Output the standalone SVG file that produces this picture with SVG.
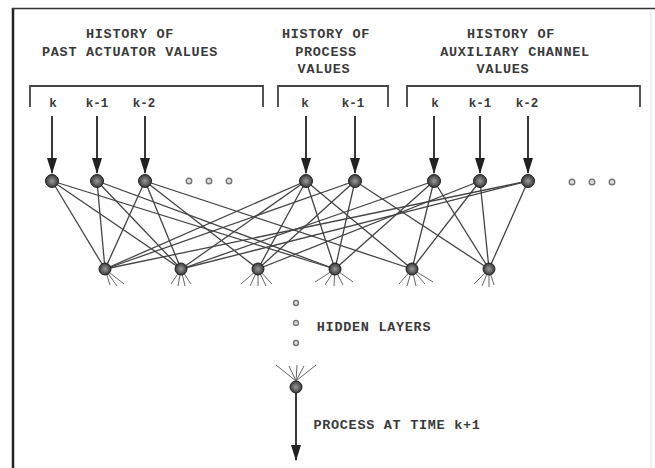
<svg xmlns="http://www.w3.org/2000/svg" width="655" height="468" viewBox="0 0 655 468">
  <defs>
    <radialGradient id="ball" cx="50%" cy="50%" r="55%">
      <stop offset="0" stop-color="#9a9a9a"/>
      <stop offset="0.6" stop-color="#5a5a5a"/>
      <stop offset="1" stop-color="#2a2a2a"/>
    </radialGradient>
    <marker id="arr" viewBox="0 0 16 10" refX="15" refY="5" markerWidth="16" markerHeight="10" orient="auto" markerUnits="userSpaceOnUse">
      <path d="M0,0 L16,5 L0,10 Z" fill="#222"/>
    </marker>
  </defs>
  <style>
    .t { font-family: "Liberation Mono", "DejaVu Sans Mono", monospace; font-size: 13.5px; font-weight: bold; letter-spacing: 0.7px; fill: #3a3a3a; text-anchor: middle; }
    .k { font-family: "Liberation Mono", "DejaVu Sans Mono", monospace; font-size: 12.5px; font-weight: bold; fill: #3a3a3a; text-anchor: middle; }
    .br { fill: none; stroke: #444; stroke-width: 1.8; }
    .in { stroke: #222; stroke-width: 1.8; fill: none; }
    .e { stroke: #444; stroke-width: 1.3; }
    .st { stroke: #666; stroke-width: 1; }
    .node { fill: url(#ball); stroke: #222; stroke-width: 1; }
    .dot { fill: #ddd; stroke: #777; stroke-width: 1.4; }
  </style>
  <rect width="655" height="468" fill="#fff"/>

  <!-- frame -->
  <g id="frame">
    <line x1="13" y1="8" x2="13" y2="468" stroke="#222" stroke-width="2.5"/>
    <line x1="12" y1="8.5" x2="655" y2="8.5" stroke="#333" stroke-width="1.6"/>
    <line x1="651" y1="9" x2="651" y2="468" stroke="#e2e2e2" stroke-width="1"/>
  </g>

  <!-- titles -->
  <g id="title-actuator">
    <text class="t" x="130" y="38">HISTORY OF</text>
    <text class="t" x="130" y="56">PAST ACTUATOR VALUES</text>
  </g>
  <g id="title-process">
    <text class="t" x="326" y="38">HISTORY OF</text>
    <text class="t" x="326" y="56">PROCESS</text>
    <text class="t" x="324" y="73">VALUES</text>
  </g>
  <g id="title-aux">
    <text class="t" x="511" y="38">HISTORY OF</text>
    <text class="t" x="515" y="56">AUXILIARY CHANNEL</text>
    <text class="t" x="503" y="73">VALUES</text>
  </g>

  <!-- brackets -->
  <g id="brackets">
    <path class="br" d="M30,107 V86 H263 V107"/>
    <path class="br" d="M278,107 V86 H388 V107"/>
    <path class="br" d="M407,107 V86 H640 V107"/>
  </g>

  <!-- input labels -->
  <g id="input-labels">
    <text class="k" x="53" y="107">k</text>
    <text class="k" x="97" y="107">k-1</text>
    <text class="k" x="144" y="107">k-2</text>
    <text class="k" x="305" y="107">k</text>
    <text class="k" x="353" y="107">k-1</text>
    <text class="k" x="435" y="107">k</text>
    <text class="k" x="480" y="107">k-1</text>
    <text class="k" x="527" y="107">k-2</text>
  </g>

  <!-- connectors -->
  <g id="connectors">
    <g id="input-arrows">
      <line class="in" x1="52" y1="116" x2="52" y2="173" marker-end="url(#arr)"/>
      <line class="in" x1="97" y1="116" x2="97" y2="173" marker-end="url(#arr)"/>
      <line class="in" x1="145" y1="116" x2="145" y2="173" marker-end="url(#arr)"/>
      <line class="in" x1="306" y1="116" x2="306" y2="173" marker-end="url(#arr)"/>
      <line class="in" x1="355" y1="116" x2="355" y2="173" marker-end="url(#arr)"/>
      <line class="in" x1="434" y1="116" x2="434" y2="173" marker-end="url(#arr)"/>
      <line class="in" x1="480" y1="116" x2="480" y2="173" marker-end="url(#arr)"/>
      <line class="in" x1="528" y1="116" x2="528" y2="173" marker-end="url(#arr)"/>
    </g>
    <g id="weights">
      <line class="e" x1="52" y1="181" x2="105" y2="269"/>
      <line class="e" x1="52" y1="181" x2="181" y2="269"/>
      <line class="e" x1="52" y1="181" x2="335" y2="269"/>
      <line class="e" x1="97" y1="181" x2="105" y2="269"/>
      <line class="e" x1="97" y1="181" x2="181" y2="269"/>
      <line class="e" x1="97" y1="181" x2="335" y2="269"/>
      <line class="e" x1="145" y1="181" x2="105" y2="269"/>
      <line class="e" x1="145" y1="181" x2="181" y2="269"/>
      <line class="e" x1="145" y1="181" x2="258" y2="269"/>
      <line class="e" x1="145" y1="181" x2="412" y2="269"/>
      <line class="e" x1="306" y1="181" x2="105" y2="269"/>
      <line class="e" x1="306" y1="181" x2="181" y2="269"/>
      <line class="e" x1="306" y1="181" x2="258" y2="269"/>
      <line class="e" x1="306" y1="181" x2="335" y2="269"/>
      <line class="e" x1="306" y1="181" x2="412" y2="269"/>
      <line class="e" x1="355" y1="181" x2="105" y2="269"/>
      <line class="e" x1="355" y1="181" x2="258" y2="269"/>
      <line class="e" x1="355" y1="181" x2="335" y2="269"/>
      <line class="e" x1="355" y1="181" x2="489" y2="269"/>
      <line class="e" x1="434" y1="181" x2="181" y2="269"/>
      <line class="e" x1="434" y1="181" x2="335" y2="269"/>
      <line class="e" x1="434" y1="181" x2="412" y2="269"/>
      <line class="e" x1="434" y1="181" x2="489" y2="269"/>
      <line class="e" x1="480" y1="181" x2="258" y2="269"/>
      <line class="e" x1="480" y1="181" x2="412" y2="269"/>
      <line class="e" x1="480" y1="181" x2="489" y2="269"/>
      <line class="e" x1="528" y1="181" x2="105" y2="269"/>
      <line class="e" x1="528" y1="181" x2="181" y2="269"/>
      <line class="e" x1="528" y1="181" x2="489" y2="269"/>
    </g>
    <g id="hidden-stubs">
      <line class="st" x1="105" y1="269" x2="110" y2="285"/>
      <line class="st" x1="105" y1="269" x2="117" y2="286"/>
      <line class="st" x1="105" y1="269" x2="124" y2="284"/>
      <line class="st" x1="181" y1="269" x2="171" y2="284"/>
      <line class="st" x1="181" y1="269" x2="178" y2="286"/>
      <line class="st" x1="181" y1="269" x2="185" y2="286"/>
      <line class="st" x1="181" y1="269" x2="191" y2="284"/>
      <line class="st" x1="258" y1="269" x2="241" y2="284"/>
      <line class="st" x1="258" y1="269" x2="250" y2="286"/>
      <line class="st" x1="258" y1="269" x2="258" y2="286"/>
      <line class="st" x1="258" y1="269" x2="266" y2="286"/>
      <line class="st" x1="258" y1="269" x2="272" y2="284"/>
      <line class="st" x1="335" y1="269" x2="315" y2="282"/>
      <line class="st" x1="335" y1="269" x2="325" y2="285"/>
      <line class="st" x1="335" y1="269" x2="334" y2="286"/>
      <line class="st" x1="335" y1="269" x2="343" y2="285"/>
      <line class="st" x1="335" y1="269" x2="353" y2="282"/>
      <line class="st" x1="412" y1="269" x2="399" y2="284"/>
      <line class="st" x1="412" y1="269" x2="407" y2="286"/>
      <line class="st" x1="412" y1="269" x2="416" y2="286"/>
      <line class="st" x1="412" y1="269" x2="425" y2="284"/>
      <line class="st" x1="412" y1="269" x2="433" y2="282"/>
      <line class="st" x1="489" y1="269" x2="474" y2="284"/>
      <line class="st" x1="489" y1="269" x2="482" y2="286"/>
      <line class="st" x1="489" y1="269" x2="489" y2="287"/>
      <line class="st" x1="489" y1="269" x2="494" y2="285"/>
    </g>
    <g id="output-fan">
      <line class="st" x1="276" y1="365" x2="296" y2="381"/>
      <line class="st" x1="289" y1="366" x2="296" y2="381"/>
      <line class="st" x1="297" y1="365" x2="296" y2="381"/>
      <line class="st" x1="304" y1="366" x2="296" y2="381"/>
      <line class="st" x1="316" y1="365" x2="296" y2="381"/>
    </g>
    <line id="output-arrow" class="in" x1="296" y1="393" x2="296" y2="460" stroke-width="1.6" marker-end="url(#arr)"/>
  </g>

  <!-- input nodes -->
  <g id="in1"><circle class="node" cx="52" cy="181" r="6.5"/></g>
  <g id="in2"><circle class="node" cx="97" cy="181" r="6.5"/></g>
  <g id="in3"><circle class="node" cx="145" cy="181" r="6.5"/></g>
  <g id="in4"><circle class="node" cx="306" cy="181" r="6.5"/></g>
  <g id="in5"><circle class="node" cx="355" cy="181" r="6.5"/></g>
  <g id="in6"><circle class="node" cx="434" cy="181" r="6.5"/></g>
  <g id="in7"><circle class="node" cx="480" cy="181" r="6.5"/></g>
  <g id="in8"><circle class="node" cx="528" cy="181" r="6.5"/></g>

  <g id="ellipsis-1">
    <circle class="dot" cx="189" cy="181" r="2.8"/>
    <circle class="dot" cx="209" cy="181" r="2.8"/>
    <circle class="dot" cx="229" cy="181" r="2.8"/>
  </g>
  <g id="ellipsis-2">
    <circle class="dot" cx="572" cy="182" r="2.8"/>
    <circle class="dot" cx="592" cy="182" r="2.8"/>
    <circle class="dot" cx="612" cy="182" r="2.8"/>
  </g>

  <!-- hidden nodes -->
  <g id="h1"><circle class="node" cx="105" cy="269" r="6"/></g>
  <g id="h2"><circle class="node" cx="181" cy="269" r="6"/></g>
  <g id="h3"><circle class="node" cx="258" cy="269" r="6"/></g>
  <g id="h4"><circle class="node" cx="335" cy="269" r="6"/></g>
  <g id="h5"><circle class="node" cx="412" cy="269" r="6"/></g>
  <g id="h6"><circle class="node" cx="489" cy="269" r="6"/></g>

  <g id="hidden-layers">
    <circle class="dot" cx="296" cy="303" r="2.5"/>
    <circle class="dot" cx="296" cy="323" r="2.5"/>
    <circle class="dot" cx="296" cy="343" r="2.5"/>
    <text class="t" x="374" y="331">HIDDEN LAYERS</text>
  </g>

  <g id="output">
    <circle class="node" cx="296" cy="387" r="6"/>
    <text class="t" x="397" y="429">PROCESS AT TIME k+1</text>
  </g>
</svg>
